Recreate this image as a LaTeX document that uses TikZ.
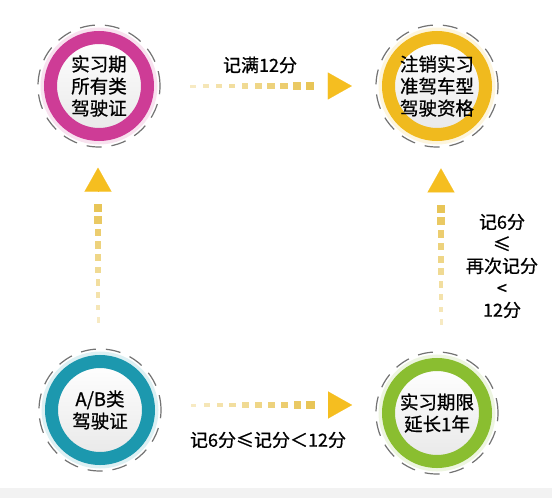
\documentclass[tikz,border=0pt]{standalone}
\usepackage{fontspec}
\setmainfont{Noto Sans CJK SC}[FakeBold=0.8]
\usetikzlibrary{arrows.meta,calc}

\definecolor{pinkring}{RGB}{206,60,150}
\definecolor{goldring}{RGB}{240,186,30}
\definecolor{tealring}{RGB}{28,152,174}
\definecolor{limering}{RGB}{138,190,48}
\definecolor{arrowyel}{RGB}{245,190,32}
\definecolor{dashyel}{RGB}{232,196,84}

\tikzset{
  ring/.style={circle, minimum size=97pt, inner sep=0pt, line width=13pt,
    draw=#1, top color=white, bottom color=black!9,
    preaction={draw=#1!15, line width=20pt, fill=white},
    font=\fontsize{18.5}{22}\selectfont, align=center},
  dashring/.style={draw=black!55, line width=1.2pt, dash pattern=on 15pt off 10pt},
  dashbit/.style={rectangle, fill=dashyel, inner sep=0pt, sloped},
  label/.style={font=\fontsize{18}{22}\selectfont, align=center}
}

% graduated dashes, then the head
\newcommand\flowarrow[2]{%
  \foreach \i in {0,...,9}{
    \pgfmathsetmacro{\t}{0.278+0.0385*\i}
    \pgfmathsetmacro{\h}{3+0.55*\i}
    \pgfmathsetmacro{\w}{5.5+0.3*\i}
    \pgfmathsetmacro{\o}{0.35+0.07*\i}
    \path (#1) -- (#2) node[dashbit, pos=\t, minimum width=\w pt,
      minimum height=\h pt, opacity=\o]{};
  }
  \draw[arrowyel, line width=0.1pt, -{Triangle[length=24pt,width=27pt]}]
    ($(#1)!0.70!(#2)$) -- ($(#1)!0.748!(#2)$);
}

\begin{document}
\begin{tikzpicture}[x=1pt, y=-1pt]
  \useasboundingbox (0,0) rectangle (552,498);
  \fill[black!5] (0,488) rectangle (552,498);

  % the four stages
  \node[ring=pinkring] (prac) at (99,86) {实习期\\所有类\\驾驶证};
  \node[ring=goldring] (cancel) at (437,86) {注销实习\\准驾车型\\驾驶资格};
  \node[ring=tealring] (ab) at (100,410) {A/B类\\驾驶证};
  \node[ring=limering] (ext) at (437,413) {实习期限\\延长1年};

  \foreach \c in {prac,cancel,ab,ext}
    \draw[dashring] (\c.center) circle[radius=61pt];

  \coordinate (abR) at ([yshift=5pt]ab.center);
  \coordinate (extL) at ([yshift=8pt]ext.center);
  \coordinate (extU) at ([xshift=4pt]ext.center);
  \coordinate (cancelD) at ([xshift=4pt]cancel.center);
  \coordinate (pracD) at ([xshift=-1pt]prac.center);
  \coordinate (abU) at ([xshift=-2pt]ab.center);

  \flowarrow{prac.center}{cancel.center}
  \flowarrow{abR}{extL}
  \flowarrow{abU}{pracD}
  \flowarrow{extU}{cancelD}

  \node[label] (full) at (260,65) {记满12分};
  \node[label] (range) at (268,440) {记6分≤记分＜12分};
  \node[label] (again) at (502,266) {记6分\\≤\\再次记分\\<\\12分};
\end{tikzpicture}
\end{document}
